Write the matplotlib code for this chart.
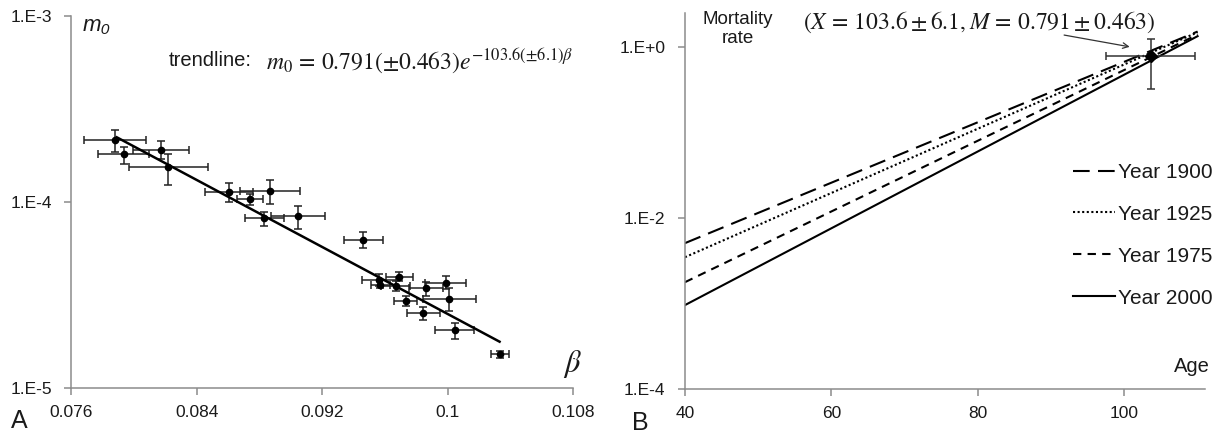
import numpy as np
import matplotlib
matplotlib.use("Agg")
from matplotlib import pyplot as plt

plt.rcParams['font.family'] = ['Liberation Sans', 'DejaVu Sans']
plt.rcParams['mathtext.fontset'] = 'stix'

# panel A: m0 against beta, with error bars
beta = [0.07876, 0.07933, 0.0817, 0.08218, 0.08605, 0.0874, 0.08867, 0.08831,
        0.09045, 0.09462, 0.0956, 0.0957, 0.09692, 0.09667, 0.0986, 0.09986,
        0.09731, 0.1001, 0.09845, 0.10043, 0.10333]
beta_err = [0.00198, 0.0016, 0.0018, 0.00253, 0.0015, 0.00085, 0.0019, 0.00123,
            0.00174, 0.00125, 0.00108, 0.0006, 0.00087, 0.00095, 0.0011, 0.0013,
            0.00072, 0.0017, 0.00107, 0.00125, 0.00057]
m0 = [2.16e-4, 1.81e-4, 1.91e-4, 1.54e-4, 1.13e-4, 1.04e-4, 1.15e-4, 8.2e-5,
      8.4e-5, 6.3e-5, 3.83e-5, 3.61e-5, 3.97e-5, 3.56e-5, 3.47e-5, 3.70e-5,
      2.96e-5, 3.0e-5, 2.54e-5, 2.05e-5, 1.52e-5]
m0_lo = [1.85e-4, 1.60e-4, 1.71e-4, 1.24e-4, 1.00e-4, 9.6e-5, 9.8e-5, 7.4e-5,
         7.2e-5, 5.7e-5, 3.56e-5, 3.47e-5, 3.75e-5, 3.32e-5, 3.15e-5, 3.40e-5,
         2.76e-5, 2.59e-5, 2.33e-5, 1.84e-5, 1.46e-5]
m0_hi = [2.44e-4, 1.99e-4, 2.14e-4, 1.81e-4, 1.26e-4, 1.10e-4, 1.31e-4, 8.9e-5,
         9.5e-5, 6.9e-5, 4.12e-5, 3.83e-5, 4.21e-5, 3.79e-5, 3.72e-5, 4.01e-5,
         3.15e-5, 3.47e-5, 2.75e-5, 2.23e-5, 1.59e-5]
trend_beta = [0.0789, 0.1033]
trend_m0 = [2.23e-4, 1.78e-5]

# panel B: mortality rate lines (values at age 40 and 110)
ages = [40, 110]
years = ['Year 1900', 'Year 1925', 'Year 1975', 'Year 2000']
rates = [[5.1e-3, 1.53], [3.49e-3, 1.50], [1.78e-3, 1.41], [9.6e-4, 1.35]]
dashes = [(8, 4), (1, 1.2), (4, 3), None]
cross_x, cross_xerr = 103.6, 6.1
cross_m, cross_merr = 0.791, 0.463

fig = plt.figure(figsize=(12.26, 4.41), dpi=100)
grey = '#8c8c8c'
tc = '#1a1a1a'

def style(ax):
    for s in ['top', 'right']:
        ax.spines[s].set_visible(False)
    for s in ['left', 'bottom']:
        ax.spines[s].set_color(grey)
        ax.spines[s].set_linewidth(1.1)
    ax.tick_params(which='both', direction='out', length=5, width=1.1,
                   color=grey, labelcolor=tc, labelsize=12.5)
    ax.tick_params(axis='x', pad=7)
    ax.tick_params(axis='y', pad=9)
    ax.minorticks_off()

# ---- A ----
ax1 = fig.add_axes([0.0582, 0.1195, 0.4094, 0.8442])
ax1.set_yscale('log')
ax1.errorbar(beta, m0, xerr=beta_err,
             yerr=[np.array(m0) - np.array(m0_lo), np.array(m0_hi) - np.array(m0)],
             fmt='o', color='black', ms=4.5, ecolor='#222222', elinewidth=1.1,
             capsize=2.8, capthick=1.1)
ax1.plot(trend_beta, trend_m0, color='black', lw=1.8)
ax1.set_xlim(0.076, 0.108)
ax1.set_ylim(1e-5, 1e-3)
ax1.set_xticks([0.076, 0.084, 0.092, 0.1, 0.108])
ax1.set_xticklabels(['0.076', '0.084', '0.092', '0.1', '0.108'])
ax1.set_yticks([1e-5, 1e-4, 1e-3])
ax1.set_yticklabels(['1.E-5', '1.E-4', '1.E-3'])
style(ax1)
ax1.text(0.023, 0.975, 'm\u2080', transform=ax1.transAxes, fontsize=16,
         ha='left', va='center', color=tc, style='italic')
ax1.text(0.195, 0.88, 'trendline:', transform=ax1.transAxes, fontsize=14.5,
         ha='left', va='center', color=tc)
ax1.text(1.0, 0.88, r'$m_0\,=\,0.791(\pm0.463)e^{-103.6(\pm6.1)\beta}$',
         transform=ax1.transAxes, fontsize=17, ha='right', va='center', color=tc)
ax1.text(0.998, 0.065, r'$\beta$', transform=ax1.transAxes, fontsize=22,
         ha='center', va='center', color=tc)

# ---- B ----
ax2 = fig.add_axes([0.5587, 0.1179, 0.4241, 0.8519])
ax2.set_yscale('log')
for lab, r, d in zip(years, rates, dashes):
    line, = ax2.plot(ages, r, color='black', lw=1.5, label=lab)
    if d is not None:
        line.set_dashes(d)
ax2.errorbar([cross_x], [cross_m], xerr=[cross_xerr], yerr=[cross_merr],
             fmt='D', color='black', ms=6, ecolor='#333333', elinewidth=1.1,
             capsize=3, capthick=1.1)
ax2.set_xlim(40, 111)
ax2.set_ylim(1e-4, 2.5)
ax2.set_xticks([40, 60, 80, 100])
ax2.set_yticks([1e-4, 1e-2, 1])
ax2.set_yticklabels(['1.E-4', '1.E-2', '1.E+0'])
style(ax2)
ax2.text(0.101, 0.957, 'Mortality\nrate', transform=ax2.transAxes, fontsize=13.5,
         ha='center', va='center', color=tc, linespacing=1.15)
ax2.text(1.01, 0.06, 'Age', transform=ax2.transAxes, fontsize=14.5,
         ha='right', va='center', color=tc)
ax2.text(0.565, 0.975, r'$(X\,=\,103.6\pm6.1,M\,=\,0.791\pm0.463)$',
         transform=ax2.transAxes, fontsize=17, ha='center', va='center', color=tc)
ax2.annotate('', xy=(101.1, 1.0), xytext=(91.4, 1.41),
             arrowprops=dict(arrowstyle='->', color='#333333', lw=0.9))
ax2.legend(loc='upper left', bbox_to_anchor=(0.746, 0.602), frameon=False,
           fontsize=15, handlelength=2.0, handletextpad=0.15, labelspacing=1.1,
           borderpad=0, borderaxespad=0, labelcolor=tc)

fig.text(0.016, 0.045, 'A', fontsize=18, ha='center', va='center', color=tc)
fig.text(0.522, 0.04, 'B', fontsize=18, ha='center', va='center', color=tc)

fig.savefig('out.png', dpi=100)
